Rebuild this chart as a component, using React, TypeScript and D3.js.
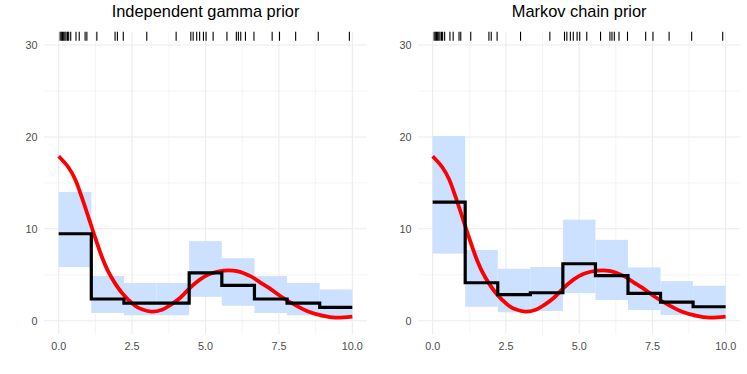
import React from "react";
import * as d3 from "d3";

// event times shown as the rug along the top
const events = [
  0.05, 0.09, 0.13, 0.17, 0.21, 0.25, 0.3, 0.34, 0.41, 0.59, 0.7, 0.9, 0.96,
  1.3, 1.92, 2.0, 2.2, 3.0, 4.0, 4.5, 4.58, 4.7, 4.8, 4.93, 5.02, 5.26, 5.73,
  6.05, 6.12, 6.2, 6.36, 6.65, 7.27, 7.52, 8.07, 8.84, 9.9,
];

const binEdges = [0, 1.111, 2.222, 3.333, 4.444, 5.556, 6.667, 7.778, 8.889, 10];

// true intensity (red curve)
const truthX = [
  0, 0.33, 0.56, 0.78, 1.01, 1.24, 1.47, 1.69, 1.92, 2.15, 2.38, 2.6, 2.83,
  3.17, 3.52, 3.8, 4.14, 4.48, 4.82, 5.16, 5.62, 6.07, 6.53, 6.87, 7.15, 7.61,
  8.06, 8.52, 8.98, 9.43, 10,
];
const truthY = [
  17.9, 16.7, 15.4, 13.5, 11.3, 9.06, 6.96, 5.33, 4.06, 3.04, 2.25, 1.63, 1.24,
  0.98, 1.2, 1.7, 2.5, 3.6, 4.5, 5.1, 5.45, 5.4, 4.85, 4.15, 3.6, 2.55, 1.7,
  0.98, 0.55, 0.33, 0.45,
];

const gammaMean = [9.46, 2.36, 1.92, 1.92, 5.2, 3.85, 2.36, 1.92, 1.45];
const gammaLower = [5.84, 0.84, 0.59, 0.59, 2.6, 1.63, 0.84, 0.59, 0.3];
const gammaUpper = [14.0, 4.86, 4.1, 4.1, 8.66, 6.8, 4.86, 4.1, 3.4];

const markovMean = [12.9, 4.13, 2.83, 3.04, 6.2, 4.9, 2.98, 2.03, 1.52];
const markovLower = [7.3, 1.52, 0.91, 1.05, 3.0, 2.25, 1.16, 0.62, 0.3];
const markovUpper = [20.1, 7.7, 5.65, 5.84, 11.0, 8.8, 5.8, 4.3, 3.8];

const xTicks = [0, 2.5, 5, 7.5, 10];
const xMinor = [1.25, 3.75, 6.25, 8.75];
const yTicks = [0, 10, 20, 30];
const yMinor = [5, 15, 25];

const font = "'Liberation Sans', Arial, sans-serif";
const top = 31.7;
const bottom = 334.3;

function Panel({ title, x0, x1, mean, lower, upper }: any) {
  const x = d3.scaleLinear().domain([-0.5, 10.5]).range([x0, x1]);
  const y = d3.scaleLinear().domain([-1.48, 31.45]).range([bottom, top]);

  const stepPts: [number, number][] = mean.map((m: number, i: number) => [binEdges[i], m]);
  stepPts.push([10, mean[mean.length - 1]]);
  const step = d3
    .line<[number, number]>()
    .x((d) => x(d[0]))
    .y((d) => y(d[1]))
    .curve(d3.curveStepAfter);

  const truth = d3
    .line<number>()
    .x((d, i) => x(truthX[i]))
    .y((d) => y(d))
    .curve(d3.curveCatmullRom);

  const rugLen = (bottom - top) * 0.03;

  return (
    <g>
      {yMinor.map((t) => (
        <line key={"ym" + t} x1={x0} x2={x1} y1={y(t)} y2={y(t)} stroke="#ebebeb" strokeWidth={0.55} />
      ))}
      {xMinor.map((t) => (
        <line key={"xm" + t} x1={x(t)} x2={x(t)} y1={top} y2={bottom} stroke="#ebebeb" strokeWidth={0.55} />
      ))}
      {yTicks.map((t) => (
        <line key={"y" + t} x1={x0} x2={x1} y1={y(t)} y2={y(t)} stroke="#ebebeb" strokeWidth={1.07} />
      ))}
      {xTicks.map((t) => (
        <line key={"x" + t} x1={x(t)} x2={x(t)} y1={top} y2={bottom} stroke="#ebebeb" strokeWidth={1.07} />
      ))}

      {mean.map((m: number, i: number) => (
        <rect
          key={"r" + i}
          x={x(binEdges[i])}
          width={x(binEdges[i + 1]) - x(binEdges[i])}
          y={y(upper[i])}
          height={y(lower[i]) - y(upper[i])}
          fill="#cce0ff"
        />
      ))}

      <path d={truth(truthY) || ""} fill="none" stroke="#ff0000" strokeWidth={3.8} />
      <path d={step(stepPts) || ""} fill="none" stroke="#000000" strokeWidth={3.2} />

      {events.map((e, i) => (
        <line key={"e" + i} x1={x(e)} x2={x(e)} y1={top} y2={top + rugLen} stroke="#000" strokeWidth={1.1} />
      ))}

      {yTicks.map((t) => (
        <text key={"yl" + t} x={x0 - 6.5} y={y(t)} dy="0.36em" textAnchor="end" fontSize={10.8} fill="#4d4d4d" fontFamily={font}>
          {t}
        </text>
      ))}
      {xTicks.map((t) => (
        <text key={"xl" + t} x={x(t)} y={349.5} textAnchor="middle" fontSize={10.8} fill="#4d4d4d" fontFamily={font}>
          {d3.format(".1f")(t)}
        </text>
      ))}
      <text x={(x0 + x1) / 2} y={17} textAnchor="middle" fontSize={16.4} fill="#000" fontFamily={font}>
        {title}
      </text>
    </g>
  );
}

export default function App() {
  return (
    <svg width={747} height={374} style={{ position: "absolute", left: 0, top: 0, background: "#fff" }}>
      <Panel title="Independent gamma prior" x0={44} x1={367} mean={gammaMean} lower={gammaLower} upper={gammaUpper} />
      <Panel title="Markov chain prior" x0={418} x1={740.3} mean={markovMean} lower={markovLower} upper={markovUpper} />
    </svg>
  );
}
